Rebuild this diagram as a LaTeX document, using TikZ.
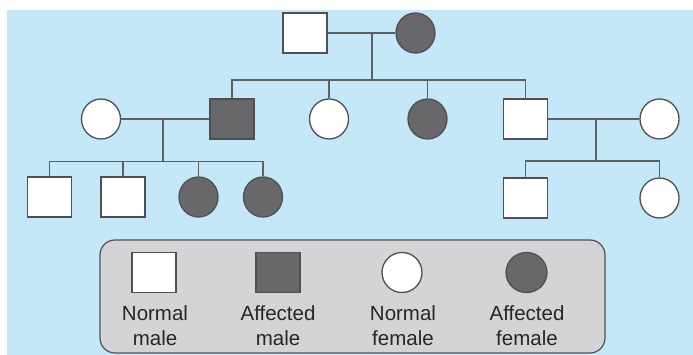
\documentclass[tikz,border=0pt]{standalone}
\usepackage{fontspec}
\setmainfont{Liberation Sans}
\usetikzlibrary{shapes.geometric}
\definecolor{skyback}{RGB}{197,232,248}
\definecolor{affected}{RGB}{104,104,106}
\definecolor{outline}{RGB}{80,80,82}
\definecolor{linkgray}{RGB}{95,95,98}
\definecolor{keyfill}{RGB}{212,212,214}
\tikzset{
  person/.style={draw=outline, line width=1.3pt, inner sep=0pt,
    minimum width=44pt, minimum height=40pt},
  male/.style={person, rectangle, fill=white},
  amale/.style={person, rectangle, fill=affected},
  female/.style={person, ellipse, fill=white, minimum width=39pt},
  afemale/.style={person, ellipse, fill=affected, minimum width=39pt},
  link/.style={draw=linkgray, line width=1.4pt},
  keytext/.style={align=center, font=\fontsize{20.5}{25}\selectfont,
    text=black!85, inner sep=0pt}
}
\begin{document}
\begin{tikzpicture}[x=1pt,y=-1pt]
\useasboundingbox (0,0) rectangle (693,355);
\fill[white] (0,0) rectangle (693,355);
\fill[skyback] (6.5,10) rectangle (693,355);

% generation I
\node[male] (g1m) at (305,33) {};
\node[afemale] (g1f) at (415.5,33) {};
\coordinate (g1mid) at (372,33);
\coordinate (g2bar) at (372,80);

% generation II
\node[female] (wifeL) at (101,119) {};
\node[amale] (sonA) at (232,119) {};
\node[female] (dauN) at (329,119) {};
\node[afemale] (dauA) at (427.5,119) {};
\node[male] (sonN) at (525.5,119) {};
\node[female] (wifeR) at (659.5,119) {};

% generation III
\node[male] (c1) at (49.5,197) {};
\node[male] (c2) at (123,197) {};
\node[afemale] (c3) at (198.5,197) {};
\node[afemale] (c4) at (263,197) {};
\node[male] (c5) at (525.5,198) {};
\node[female] (c6) at (659.5,198) {};

% marriage and descent lines
\draw[link] (g1m.east) -- (g1f.west);
\draw[link] (g1mid) -- (g2bar);
\draw[link] (sonA.north) |- (sonN.north |- g2bar) -- (sonN.north);
\draw[link] (dauN.north) -- (dauN.north |- g2bar);
\draw[link] (dauA.north) -- (dauA.north |- g2bar);

\draw[link] (wifeL.east) -- (sonA.west);
\coordinate (dL) at (163,119);
\coordinate (sL) at (163,161.5);
\draw[link] (dL) -- (sL);
\draw[link] (c1.north) |- (c4.north |- sL) -- (c4.north);
\draw[link] (c2.north) -- (c2.north |- sL);
\draw[link] (c3.north) -- (c3.north |- sL);

\draw[link] (sonN.east) -- (wifeR.west);
\coordinate (dR) at (596,119);
\coordinate (sR) at (596,161);
\draw[link] (dR) -- (sR);
\draw[link] (c5.north) |- (c6.north |- sR) -- (c6.north);

% key
\node[draw=outline, line width=1.2pt, fill=keyfill, rounded corners=15pt,
  minimum width=505pt, minimum height=113pt, inner sep=0pt] (key) at (352.5,296.5) {};
\node[male] (k1) at (154,272.5) {};
\node[amale] (k2) at (278,272.5) {};
\node[female, minimum width=40pt] (k3) at (402,272.5) {};
\node[afemale, minimum width=41pt] (k4) at (526.5,272.5) {};
\node[keytext, anchor=north] (t1) at (155,305.5) {Normal\\male};
\node[keytext, anchor=north] (t2) at (278,305.5) {Affected\\male};
\node[keytext, anchor=north] (t3) at (403,305.5) {Normal\\female};
\node[keytext, anchor=north] (t4) at (527,305.5) {Affected\\female};
\end{tikzpicture}
\end{document}
